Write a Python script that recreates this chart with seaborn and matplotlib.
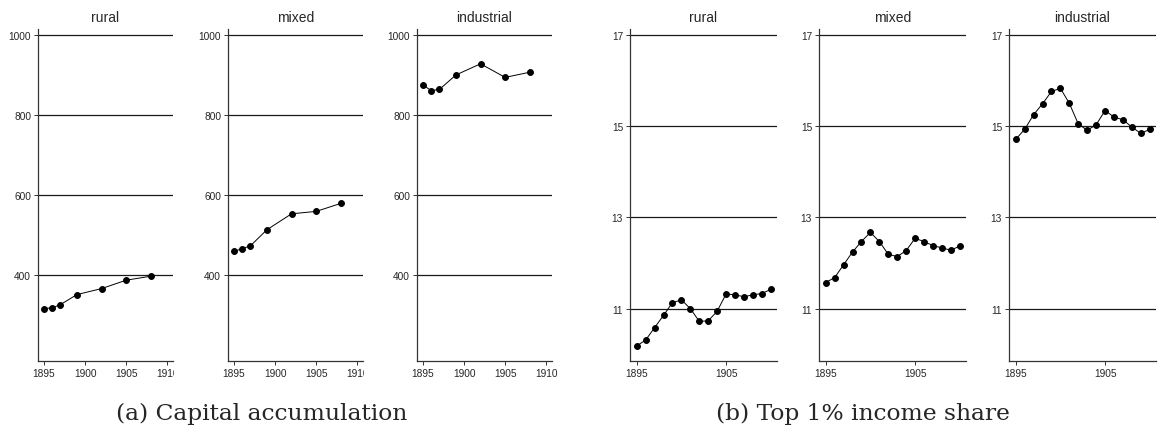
import pandas as pd
import matplotlib
matplotlib.use("Agg")
import matplotlib.pyplot as plt
from matplotlib.transforms import Bbox, TransformedBbox
import seaborn as sns

# capital accumulation (left block)
cap_years = [1895, 1896, 1897, 1899, 1902, 1905, 1908]
cap_rural = [316, 318, 326, 351, 366, 387, 397]
cap_mixed = [459, 466, 473, 513, 553, 559, 579]
cap_industrial = [875, 861, 864, 900, 928, 894, 907]

# top 1% income share (right block)
top_years = list(range(1895, 1911))
top_rural = [10.18, 10.31, 10.58, 10.85, 11.13, 11.19, 11.00, 10.72,
             10.73, 10.94, 11.32, 11.30, 11.26, 11.30, 11.33, 11.42]
top_mixed = [11.57, 11.68, 11.96, 12.24, 12.47, 12.67, 12.47, 12.19,
             12.14, 12.27, 12.54, 12.47, 12.38, 12.33, 12.28, 12.37]
top_industrial = [14.71, 14.93, 15.25, 15.49, 15.76, 15.83, 15.50, 15.05,
                  14.91, 15.03, 15.34, 15.20, 15.14, 14.98, 14.84, 14.93]

groups = ["rural", "mixed", "industrial"]
cap_yticks = [400, 600, 800, 1000]
cap_xticks = [1895, 1900, 1905, 1910]
top_yticks = [11, 13, 15, 17]
top_xticks = [1895, 1905]

cap = pd.concat([pd.DataFrame({"year": cap_years, "value": v, "group": g})
                 for g, v in zip(groups, [cap_rural, cap_mixed, cap_industrial])])
top = pd.concat([pd.DataFrame({"year": top_years, "value": v, "group": g})
                 for g, v in zip(groups, [top_rural, top_mixed, top_industrial])])

sns.set_style("white")
plt.rcParams["font.family"] = ["Liberation Sans", "DejaVu Sans"]

W, H = 1158, 439
fig = plt.figure(figsize=(W / 100, H / 100), dpi=100)

bottom = (H - 362) / H
height = (362 - 30) / H
left_x = [38, 228, 417]
right_x = [630, 819, 1009]


def panel(px, pw, df, g, yticks, ylim, xticks, xlim, clip_last):
    ax = fig.add_axes([px / W, bottom, pw / W, height])
    sub = df[df["group"] == g]
    for t in yticks:
        ax.axhline(t, color="#1a1a1a", lw=0.9, zorder=0)
    sns.lineplot(data=sub, x="year", y="value", ax=ax, color="black",
                 marker="o", markersize=4.2, linewidth=0.7,
                 markeredgecolor="black", zorder=3)
    ax.set_ylim(*ylim)
    ax.set_xlim(*xlim)
    ax.set_yticks(yticks)
    ax.set_xticks(xticks)
    ax.set_xlabel("")
    ax.set_ylabel("")
    ax.set_title(g, fontsize=10, pad=6)
    for s in ["top", "right"]:
        ax.spines[s].set_visible(False)
    for s in ["left", "bottom"]:
        ax.spines[s].set_color("#333333")
        ax.spines[s].set_linewidth(0.9)
    ax.tick_params(axis="both", direction="out", length=3, width=0.7,
                   color="#333333", labelsize=7.3, pad=2, left=True, bottom=True)
    if clip_last:
        # the last year label is cut by the next panel in the original
        box = TransformedBbox(Bbox([[-1, -2], [1.01, 2]]), ax.transAxes)
        for lab in ax.get_xticklabels():
            lab.set_clip_box(box)
            lab.set_clip_on(True)
    return ax


for i, g in enumerate(groups):
    panel(left_x[i], 135, cap, g, cap_yticks, (185, 1015), cap_xticks,
          (1894.27, 1910.7), i < 2)
    panel(right_x[i], 147, top, g, top_yticks, (9.85, 17.13), top_xticks,
          (1894.25, 1910.7), False)

fig.text(262 / W, 1 - 414 / H, "(a) Capital accumulation", ha="center",
         va="center", fontsize=16.8, family="DejaVu Serif")
fig.text(863 / W, 1 - 414 / H, "(b) Top 1% income share", ha="center",
         va="center", fontsize=16.8, family="DejaVu Serif")

fig.savefig("out.png", dpi=100)
